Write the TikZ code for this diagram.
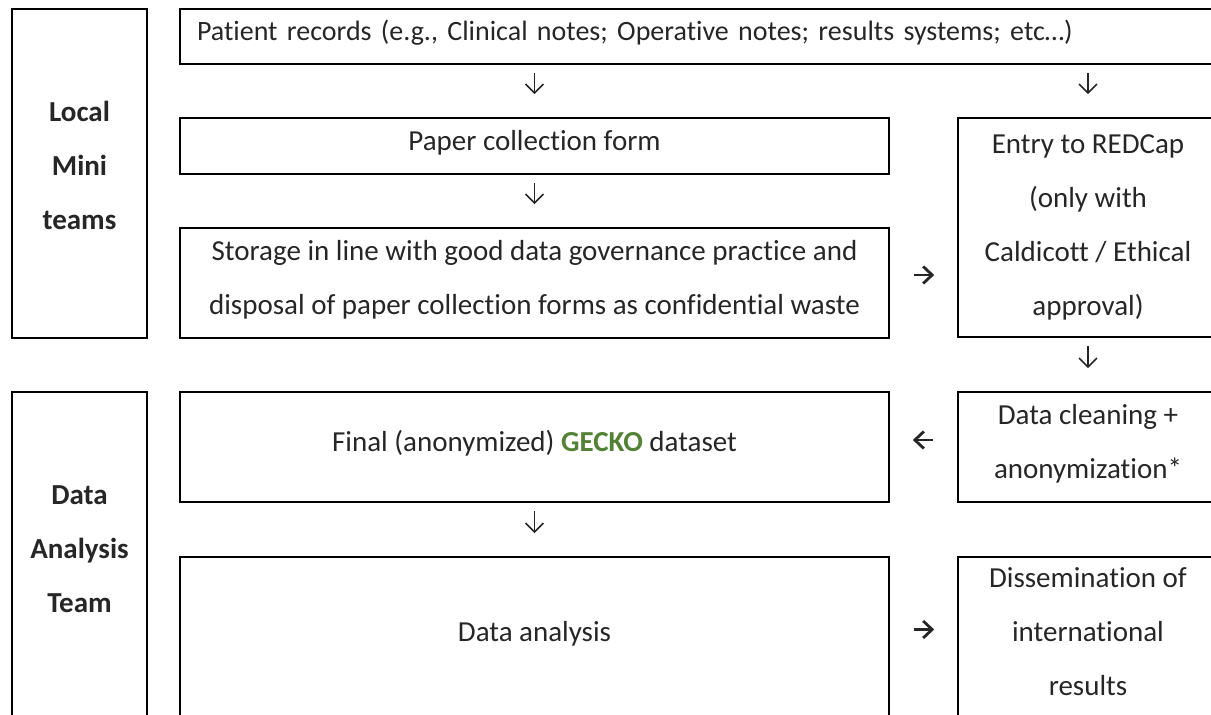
\documentclass[tikz,border=0pt]{standalone}
\usepackage{fontspec}
\setmainfont{Carlito}[Ligatures=NoCommon]
\usetikzlibrary{arrows.meta}
\definecolor{gecko}{HTML}{538135}
\definecolor{ink}{HTML}{262626}
\newcommand{\lift}[1]{\\[-#1]\mbox{}}

\begin{document}
\begin{tikzpicture}[x=0.5pt, y=-0.5pt,
	box/.style={draw, line width=0.8pt, rectangle, align=center, inner sep=3pt, text=ink, font=\fontsize{14.5}{27}\selectfont},
	side/.style={box, font=\fontsize{14.5}{27}\selectfont\bfseries, minimum width=67.5pt},
	down/.style={-{Straight Barb[length=4.5pt,width=9pt]}, line width=0.8pt, ink, shorten <=4pt, shorten >=11.5pt},
	across/.style={-{Straight Barb[length=4.5pt,width=8.5pt]}, line width=1.4pt, ink, shorten <=12pt, shorten >=11.5pt}]
\useasboundingbox (0,0) rectangle (1211,715);
\clip (0,0) rectangle (1211,715);

% teams
\node[side, minimum height=164.5pt] (local) at (79.5,173.5) {Local\\Mini\\teams\lift{19pt}};
\node[side, minimum height=165pt] (team) at (79.5,557) {Data\\Analysis\\Team\lift{19pt}};

% local steps
\node[box, align=left, text width=502pt, inner xsep=8.5pt, minimum height=27.5pt, font=\fontsize{14}{27}\selectfont] (pat) at (699,36.5) {Patient records (e.g., Clinical notes; Operative notes; results systems; etc…)\lift{21pt}};
\node[box, minimum width=354.5pt, minimum height=28pt] (pap) at (534.5,146) {Paper collection form\lift{21pt}};
\node[box, minimum width=354.5pt, minimum height=55pt] (sto) at (534.5,283) {Storage in line with good data governance practice and\\disposal of paper collection forms as confidential waste\lift{21pt}};
\node[box, minimum width=130pt, minimum height=109.5pt] (red) at (1088,227.5) {Entry to REDCap\\(only with\\Caldicott / Ethical\\approval)};

% analysis steps
\node[box, minimum width=130pt, minimum height=55pt] (cln) at (1088,447) {Data cleaning +\\anonymization*\lift{21pt}};
\node[box, minimum width=354.5pt, minimum height=55pt] (fin) at (534.5,447) {Final (anonymized) \textbf{\textcolor{gecko}{GECKO}} dataset\lift{21pt}};
\node[box, minimum width=354.5pt, minimum height=80.5pt] (ana) at (534.5,637.5) {Data analysis\lift{21pt}};
\node[box, minimum width=130pt, minimum height=80.5pt] (dis) at (1088,637.5) {Dissemination of\\international\\results\lift{21pt}};

\draw[down] (pat.south -| pap.north) -- (pap.north);
\draw[down] (pat.south -| red.north) -- (red.north);
\draw[down] (pap) -- (sto);
\draw[across] ([yshift=4pt]sto.east) -- ([yshift=4pt]red.west |- sto.east);
\draw[down] (red) -- (cln);
\draw[across] ([yshift=3.5pt]cln.west) -- ([yshift=3.5pt]fin.east |- cln.west);
\draw[down] (fin) -- (ana);
\draw[across] ([yshift=4pt]ana.east) -- ([yshift=4pt]dis.west |- ana.east);
\end{tikzpicture}
\end{document}
